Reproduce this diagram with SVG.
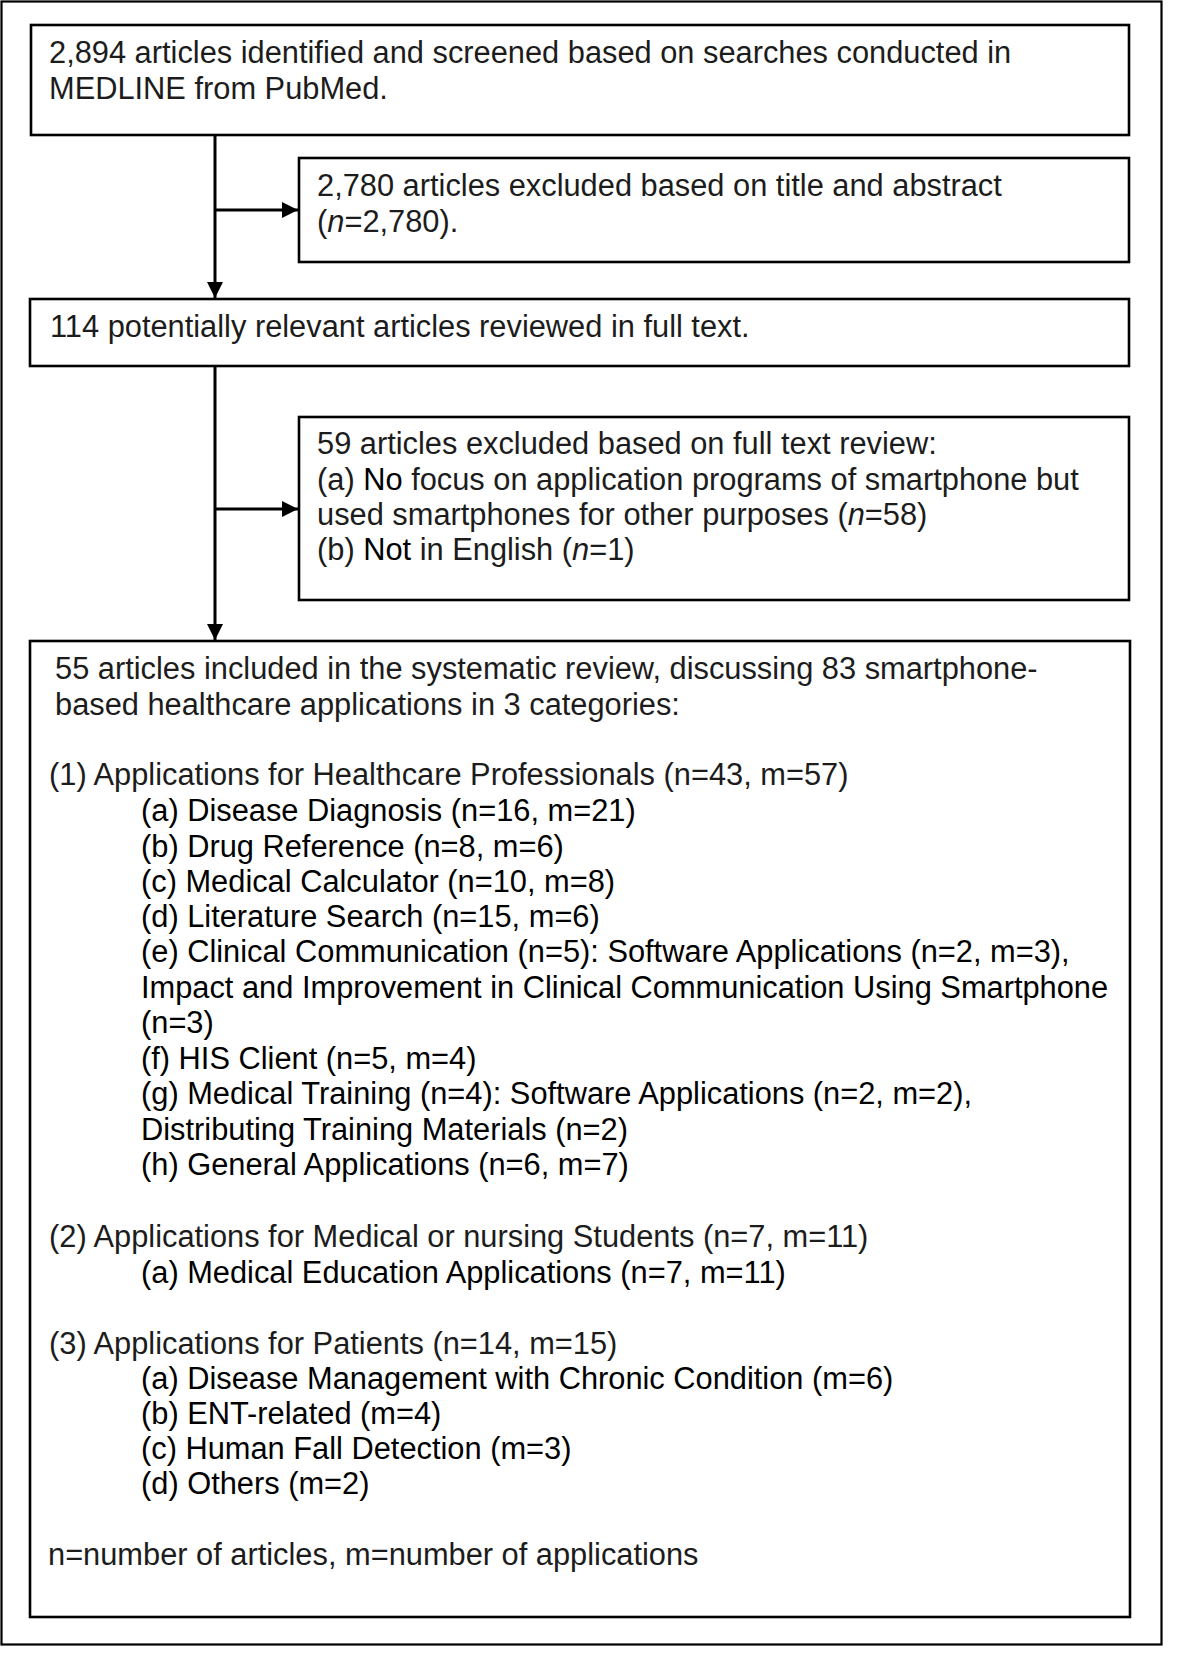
<svg xmlns="http://www.w3.org/2000/svg" width="1200" height="1677" viewBox="0 0 1200 1677">
<defs>
<style>
.box{fill:#fff;stroke:#000;stroke-width:2.6}
.t{font-family:"Liberation Sans",Arial,sans-serif;font-size:30.8px;fill:#1c1c1c}
.k{fill:#000}
.con{stroke:#000;stroke-width:3;fill:none}
</style>
<marker id="ah" markerUnits="userSpaceOnUse" markerWidth="17" markerHeight="17" refX="16" refY="8" orient="auto">
<path d="M0,0 L16,8 L0,16 Z" fill="#000"/>
</marker>
</defs>
<rect x="0" y="0" width="1200" height="1677" fill="#fff"/>
<rect x="1.5" y="1.5" width="1160" height="1643" fill="none" stroke="#000" stroke-width="2.2"/>

<g id="connectors">
<line class="con" x1="215" y1="135" x2="215" y2="298" marker-end="url(#ah)"/>
<line class="con" x1="215" y1="210" x2="298" y2="210" marker-end="url(#ah)"/>
<line class="con" x1="215" y1="366" x2="215" y2="640" marker-end="url(#ah)"/>
<line class="con" x1="215" y1="509" x2="298" y2="509" marker-end="url(#ah)"/>
</g>

<g id="node-identified">
<rect class="box" x="31" y="25" width="1098" height="110"/>
<text class="t" x="49" y="63">2,894 articles identified and screened based on searches conducted in</text>
<text class="t" x="49" y="99">MEDLINE from PubMed.</text>
</g>

<g id="node-excluded-title">
<rect class="box" x="299" y="158" width="830" height="104"/>
<text class="t" x="317" y="196">2,780 articles excluded based on title and abstract</text>
<text class="t" x="317" y="232">(<tspan font-style="italic">n</tspan>=2,780).</text>
</g>

<g id="node-fulltext">
<rect class="box" x="30" y="299" width="1099" height="67"/>
<text class="t" x="50" y="337">114 potentially relevant articles reviewed in full text.</text>
</g>

<g id="node-excluded-fulltext">
<rect class="box" x="299" y="417" width="830" height="183"/>
<text class="t" x="317" y="454">59 articles excluded based on full text review:</text>
<text class="t" x="317" y="490">(a) <tspan class="k">No</tspan> focus on application programs of smartphone but</text>
<text class="t" x="317" y="525">used smartphones for other purposes (<tspan font-style="italic">n</tspan>=58)</text>
<text class="t" x="317" y="560">(b) <tspan class="k">Not</tspan> in English (<tspan font-style="italic">n</tspan>=1)</text>
</g>

<g id="node-included">
<rect class="box" x="30" y="641" width="1100" height="976"/>
<text class="t" x="55" y="679">55 articles included in the systematic review, discussing 83 smartphone-</text>
<text class="t" x="55" y="715">based healthcare applications in 3 categories:</text>
<text class="t" x="49" y="785">(1) Applications for Healthcare Professionals (n=43, m=57)</text>
<g class="t k">
<text x="141" y="821">(a) Disease Diagnosis (n=16, m=21)</text>
<text x="141" y="857">(b) Drug Reference (n=8, m=6)</text>
<text x="141" y="892">(c) Medical Calculator (n=10, m=8)</text>
<text x="141" y="927">(d) Literature Search (n=15, m=6)</text>
<text x="141" y="962">(e) Clinical Communication (n=5): Software Applications (n=2, m=3),</text>
<text x="141" y="998">Impact and Improvement in Clinical Communication Using Smartphone</text>
<text x="141" y="1033">(n=3)</text>
<text x="141" y="1069">(f) HIS Client (n=5, m=4)</text>
<text x="141" y="1104">(g) Medical Training (n=4): Software Applications (n=2, m=2),</text>
<text x="141" y="1140">Distributing Training Materials (n=2)</text>
<text x="141" y="1175">(h) General Applications (n=6, m=7)</text>
</g>
<text class="t" x="49" y="1247">(2) Applications for Medical or nursing Students (n=7, m=11)</text>
<text class="t k" x="141" y="1283">(a) Medical Education Applications (n=7, m=11)</text>
<text class="t" x="49" y="1354">(3) Applications for Patients (n=14, m=15)</text>
<g class="t k">
<text x="141" y="1389">(a) Disease Management with Chronic Condition (m=6)</text>
<text x="141" y="1424">(b) ENT-related (m=4)</text>
<text x="141" y="1459">(c) Human Fall Detection (m=3)</text>
<text x="141" y="1494">(d) Others (m=2)</text>
</g>
<text class="t" x="48" y="1565">n=number of articles, m=number of applications</text>
</g>
</svg>
